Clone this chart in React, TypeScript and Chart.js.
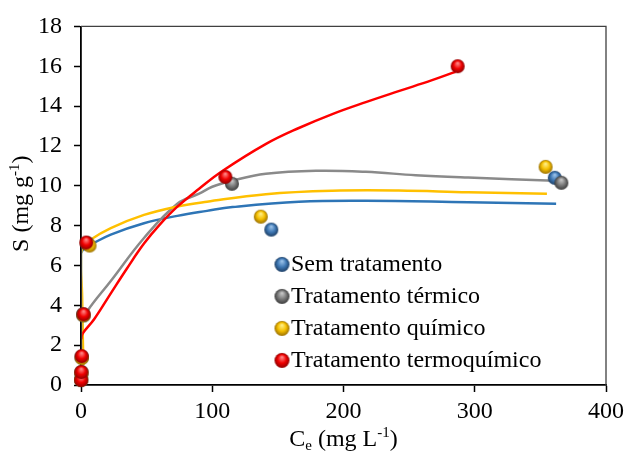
import React, { useEffect, useRef } from "react";
import { Chart, registerables } from "chart.js";

Chart.register(...registerables);

// ---- Data ----
const seriesNames = ["Sem tratamento", "Tratamento térmico", "Tratamento químico", "Tratamento termoquímico"];

// experimental points (Ce, S)
const semX = [0.1, 0.3, 0.6, 2, 5, 145, 361];
const semY = [0.25, 0.6, 1.4, 3.5, 7.1, 7.8, 10.4];
const termX = [0.1, 0.3, 0.4, 1.5, 4.5, 115, 366];
const termY = [0.3, 0.65, 1.4, 3.55, 7.1, 10.1, 10.15];
const quimX = [0.1, 0.3, 0.6, 2, 6.5, 137, 354];
const quimY = [0.25, 0.6, 1.35, 3.5, 7.0, 8.45, 10.95];
const tqX = [0.1, 0.2, 0.5, 2, 4, 110, 287];
const tqY = [0.25, 0.65, 1.45, 3.55, 7.15, 10.45, 16.0];

// fitted curves (in drawing order)
const semFitX = [1.2, 0.8, 0.3, 0, 0, 3, 7.5, 22.7, 48, 73.4, 96, 115.4, 166, 217, 295, 362];
const semFitY = [1.5, 3.0, 4.5, 5.6, 6.6, 6.9, 7.05, 7.55, 8.12, 8.49, 8.74, 8.93, 9.2, 9.25, 9.17, 9.1];
const termFitX = [1.5, 5, 22.7, 48, 73.4, 90, 100, 115, 140.8, 179, 217, 255, 295, 361];
const termFitY = [3.2, 3.73, 5.22, 7.38, 9.1, 9.6, 9.95, 10.25, 10.6, 10.75, 10.7, 10.53, 10.41, 10.25];
const quimFitX = [1.8, 1.2, 0.8, 0, 0, 1.4, 7.5, 22.7, 48, 73.4, 96, 140.8, 191.5, 242, 295, 355];
const quimFitY = [1.0, 3.0, 4.6, 5.8, 6.6, 6.88, 7.3, 7.88, 8.54, 8.96, 9.2, 9.58, 9.75, 9.76, 9.67, 9.6];
const tqFitX = [0.2, 1.1, 10, 22.7, 35, 48, 60, 73.4, 90, 108, 141, 166, 191.5, 217, 242, 267.5, 285.3];
const tqFitY = [2.3, 2.57, 3.3, 4.6, 5.85, 7.1, 8.05, 8.95, 9.85, 10.75, 12.1, 12.9, 13.6, 14.2, 14.75, 15.3, 15.72];

const xTicks = [0, 100, 200, 300, 400];
const yTicks = [0, 2, 4, 6, 8, 10, 12, 14, 16, 18];

const pts = (xs: number[], ys: number[]) => xs.map((x, i) => ({ x, y: ys[i] }));

const FONT = '"Liberation Serif", "Times New Roman", serif';

function makeSphere(r: number, light: string, mid: string, dark: string) {
  const size = Math.ceil(2 * r + 2);
  const c = document.createElement("canvas");
  c.width = size;
  c.height = size;
  const ctx = c.getContext("2d")!;
  const cx = size / 2;
  const cy = size / 2;
  const g = ctx.createRadialGradient(cx, cy - r * 0.45, r * 0.05, cx, cy, r);
  g.addColorStop(0, light);
  g.addColorStop(0.55, mid);
  g.addColorStop(1, dark);
  ctx.fillStyle = g;
  ctx.beginPath();
  ctx.arc(cx, cy, r, 0, Math.PI * 2);
  ctx.fill();
  return c;
}

export default function App() {
  const ref = useRef<HTMLCanvasElement | null>(null);

  useEffect(() => {
    if (!ref.current) return;
    const R = 7;
    const palette = [
      ["#9cc3ea", "#3f78b4", "#1d3f66"],
      ["#c8c8c8", "#7a7a7a", "#3c3c3c"],
      ["#fff08a", "#f5bf00", "#9a7000"],
      ["#ff8a8a", "#f00000", "#8e0000"],
    ];
    const spheres = palette.map((p) => makeSphere(R, p[0], p[1], p[2]));
    const legendSpheres = palette.map((p) => makeSphere(7.5, p[0], p[1], p[2]));
    const lineColors = ["#2e75b6", "#8a8a8a", "#ffc000", "#ff0000"];
    const scat = [pts(semX, semY), pts(termX, termY), pts(quimX, quimY), pts(tqX, tqY)];
    const fits = [pts(semFitX, semFitY), pts(termFitX, termFitY), pts(quimFitX, quimFitY), pts(tqFitX, tqFitY)];
    const pointOrder = [3, 2, 1, 0];
    const lineOrder = [13, 12, 11, 10];

    const datasets: any[] = [];
    for (let i = 0; i < 4; i++) {
      datasets.push({
        type: "scatter",
        label: seriesNames[i],
        data: scat[i],
        pointStyle: spheres[i],
        pointRadius: R,
        showLine: false,
        order: pointOrder[i],
        clip: false,
      });
    }
    for (let i = 0; i < 4; i++) {
      datasets.push({
        type: "scatter",
        label: seriesNames[i] + " (ajuste)",
        data: fits[i],
        showLine: true,
        borderColor: lineColors[i],
        borderWidth: 2.5,
        pointRadius: 0,
        fill: false,
        tension: 0.4,
        order: lineOrder[i],
        clip: { left: -1.2, top: 0, right: 0, bottom: 0 },
      });
    }

    const framePlugin = {
      id: "frame",
      afterDraw(chart: any) {
        const { ctx, chartArea: a } = chart;
        ctx.save();
        ctx.strokeStyle = "#404040";
        ctx.lineWidth = 1.3;
        ctx.beginPath();
        ctx.moveTo(a.left, a.top);
        ctx.lineTo(a.right, a.top);
        ctx.lineTo(a.right, a.bottom);
        ctx.stroke();
        ctx.restore();
      },
    };

    const legendPlugin = {
      id: "innerLegend",
      afterDraw(chart: any) {
        const { ctx, chartArea: a } = chart;
        ctx.save();
        ctx.font = `24px ${FONT}`;
        ctx.fillStyle = "#000";
        ctx.textBaseline = "middle";
        ctx.textAlign = "left";
        const mx = a.left + 201;
        const y0 = a.top + 238;
        for (let i = 0; i < 4; i++) {
          const y = y0 + i * 32;
          const s = legendSpheres[i];
          ctx.drawImage(s, mx - s.width / 2, y - s.height / 2);
          ctx.fillText(seriesNames[i], mx + 9, y);
        }
        ctx.restore();
      },
    };

    const titlesPlugin = {
      id: "axisTitles",
      afterDraw(chart: any) {
        const { ctx, chartArea: a } = chart;
        ctx.save();
        ctx.fillStyle = "#000";
        ctx.textBaseline = "alphabetic";
        const big = `24px ${FONT}`;
        const small = `15px ${FONT}`;
        // X title: C_e (mg L^-1)
        const partsX = [
          { t: "C", f: big, dy: 0 },
          { t: "e", f: small, dy: 4 },
          { t: " (mg L", f: big, dy: 0 },
          { t: "-1", f: small, dy: -9 },
          { t: ")", f: big, dy: 0 },
        ];
        let w = 0;
        for (const p of partsX) {
          ctx.font = p.f;
          w += ctx.measureText(p.t).width;
        }
        let x = (a.left + a.right) / 2 - w / 2;
        const by = 446;
        for (const p of partsX) {
          ctx.font = p.f;
          ctx.fillText(p.t, x, by + p.dy);
          x += ctx.measureText(p.t).width;
        }
        // Y title: S (mg g^-1)
        const partsY = [
          { t: "S (mg g", f: big, dy: 0 },
          { t: "-1", f: small, dy: -9 },
          { t: ")", f: big, dy: 0 },
        ];
        w = 0;
        for (const p of partsY) {
          ctx.font = p.f;
          w += ctx.measureText(p.t).width;
        }
        ctx.translate(28, (a.top + a.bottom) / 2 - 2);
        ctx.rotate(-Math.PI / 2);
        x = -w / 2;
        for (const p of partsY) {
          ctx.font = p.f;
          ctx.fillText(p.t, x, p.dy);
          x += ctx.measureText(p.t).width;
        }
        ctx.restore();
      },
    };

    const chart = new Chart(ref.current, {
      type: "scatter",
      data: { datasets },
      options: {
        animation: false,
        responsive: false,
        events: [],
        layout: { padding: { top: 23, right: 22, bottom: 0, left: 0 } },
        plugins: {
          legend: { display: false },
          tooltip: { enabled: false },
          title: { display: false },
        },
        scales: {
          x: {
            type: "linear",
            min: 0,
            max: 400,
            afterBuildTicks: (s: any) => {
              s.ticks = xTicks.map((v) => ({ value: v }));
            },
            afterFit: (s: any) => {
              s.height = 68;
            },
            ticks: {
              font: { family: FONT, size: 24 },
              color: "#000",
              padding: 5,
              maxRotation: 0,
            },
            grid: {
              drawOnChartArea: false,
              drawTicks: true,
              tickLength: 7,
              tickColor: "#000",
              tickWidth: 1.5,
            },
            border: { display: true, color: "#000", width: 1.8 },
          },
          y: {
            type: "linear",
            min: 0,
            max: 18,
            afterBuildTicks: (s: any) => {
              s.ticks = yTicks.map((v) => ({ value: v }));
            },
            afterFit: (s: any) => {
              s.width = 81;
            },
            ticks: {
              font: { family: FONT, size: 24 },
              color: "#000",
              padding: 12,
            },
            grid: {
              drawOnChartArea: false,
              drawTicks: true,
              tickLength: 7,
              tickColor: "#000",
              tickWidth: 1.5,
            },
            border: { display: true, color: "#000", width: 1.8 },
          },
        },
      },
      plugins: [framePlugin, legendPlugin, titlesPlugin],
    } as any);

    return () => chart.destroy();
  }, []);

  return (
    <div style={{ position: "fixed", left: 0, top: 0, width: 629, height: 453, background: "#fff" }}>
      <canvas ref={ref} width={629} height={453} style={{ display: "block" }} />
    </div>
  );
}
